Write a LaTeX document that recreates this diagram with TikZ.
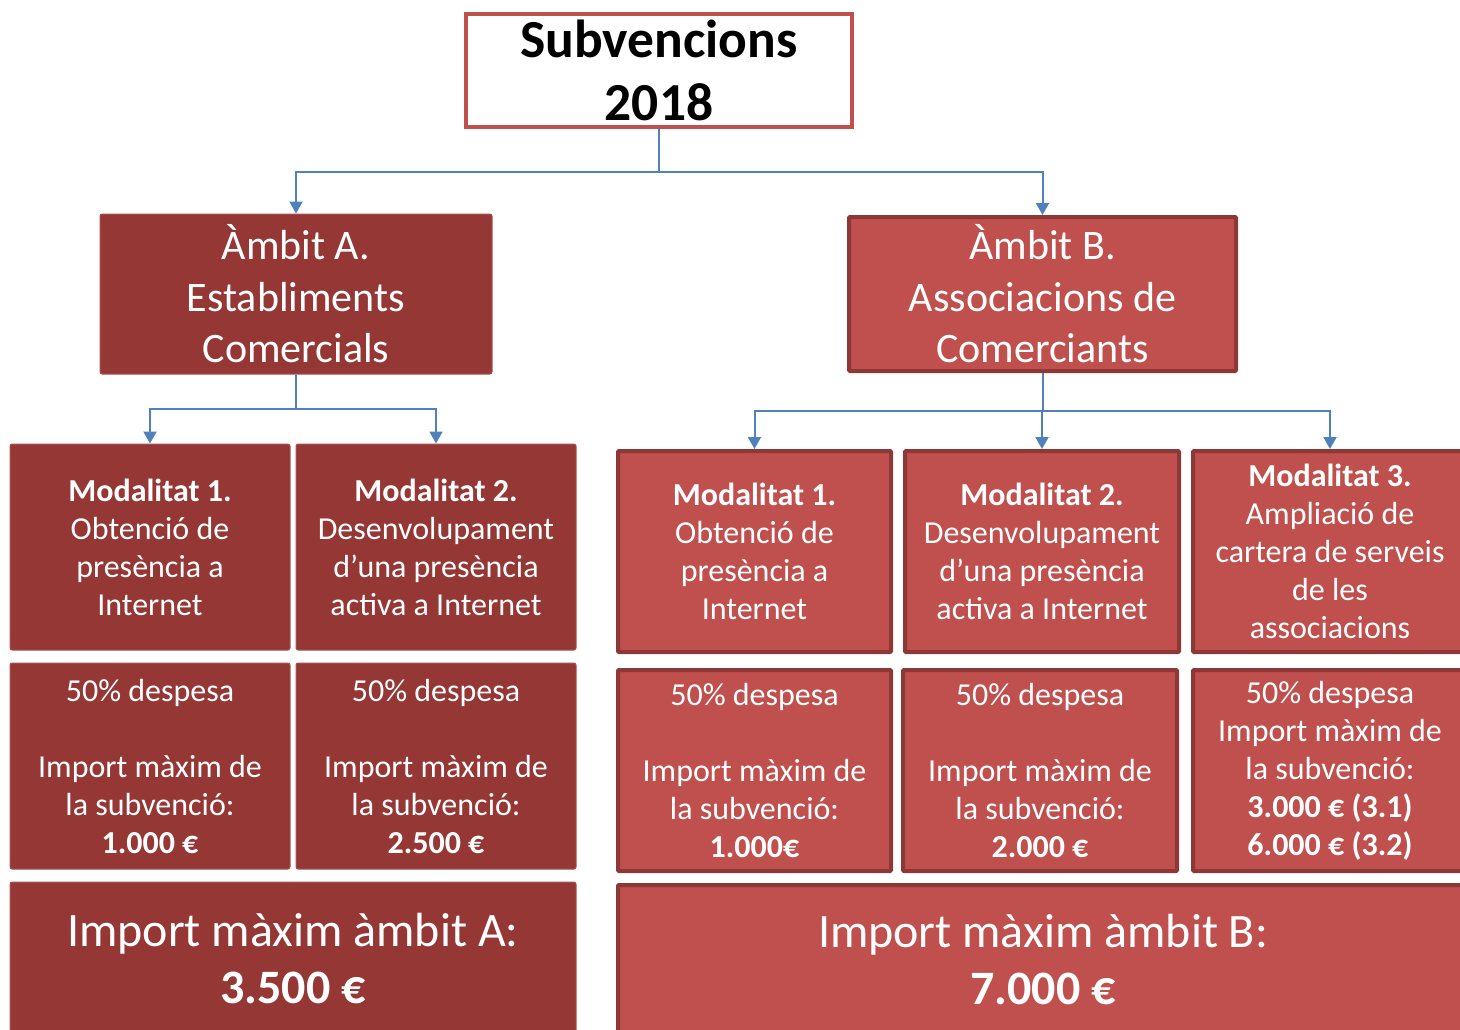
\documentclass[tikz,border=0pt]{standalone}
\usepackage{fontspec}
\setmainfont{Carlito}
\usepackage{xcolor}
\usetikzlibrary{arrows.meta,positioning,calc}

\definecolor{boxA}{RGB}{149,55,53}
\definecolor{boxB}{RGB}{192,80,77}
\definecolor{edgeB}{RGB}{140,56,54}
\definecolor{linkblue}{RGB}{79,129,189}

\tikzset{
    abox/.style={fill=boxA, draw=boxA!85!white, line width=1pt, rounded corners=2pt,
        text=white, align=center, inner sep=0pt},
    bbox/.style={fill=boxB, draw=edgeB, line width=4pt, rounded corners=1pt,
        text=white, align=center, inner sep=0pt},
    modtext/.style={font=\fontsize{32}{38}\selectfont},
    link/.style={draw=linkblue, line width=2pt, -{Triangle[width=13pt,length=12pt]}}
}

\begin{document}
\begin{tikzpicture}[x=1pt, y=-1pt]
    \useasboundingbox (0,0) rectangle (1460,1029);
    \clip (0,0) rectangle (1460,1029);

    % Title
    \node[draw=boxB, line width=4pt, fill=white, minimum width=386pt, minimum height=113pt,
        align=center, inner sep=0pt, font=\bfseries\fontsize{53.5}{63}\selectfont]
        (title) at (659,70.5) {Subvencions\\2018};

    % Ambits
    \node[abox, minimum width=392pt, minimum height=160pt, font=\fontsize{42}{51.5}\selectfont]
        (ambA) at (296,294) {Àmbit A.\\Establiments\\Comercials};
    \node[bbox, minimum width=387pt, minimum height=154pt, font=\fontsize{42}{51.5}\selectfont]
        (ambB) at (1042.5,294) {Àmbit B.\\Associacions de\\Comerciants};

    % Ambit A: modalitats
    \node[abox, modtext, minimum width=280pt, minimum height=206pt] (modA1) at (150,547)
        {\textbf{Modalitat 1.}\\Obtenció de\\presència a\\Internet};
    \node[abox, modtext, minimum width=280pt, minimum height=206pt] (modA2) at (436,547)
        {\textbf{Modalitat 2.}\\Desenvolupament\\d’una presència\\activa a Internet};
    \node[abox, modtext, minimum width=280pt, minimum height=206pt] (impA1) at (150,766)
        {50\% despesa\\[38pt]Import màxim de\\la subvenció:\\\textbf{1.000 €}};
    \node[abox, modtext, minimum width=280pt, minimum height=206pt] (impA2) at (436,766)
        {50\% despesa\\[38pt]Import màxim de\\la subvenció:\\\textbf{2.500 €}};
    \node[abox, minimum width=566pt, minimum height=153pt, font=\fontsize{48}{57}\selectfont]
        (totA) at (293,958.5) {Import màxim àmbit A:\\\textbf{3.500 €}};

    % Ambit B: modalitats
    \node[bbox, modtext, minimum width=273pt, minimum height=201pt] (modB1) at (754.5,551.5)
        {\textbf{Modalitat 1.}\\Obtenció de\\presència a\\Internet};
    \node[bbox, modtext, minimum width=274pt, minimum height=201pt] (modB2) at (1042,551.5)
        {\textbf{Modalitat 2.}\\Desenvolupament\\d’una presència\\activa a Internet};
    \node[bbox, modtext, minimum width=274pt, minimum height=201pt] (modB3) at (1330,551.5)
        {\textbf{Modalitat 3.}\\Ampliació de\\cartera de serveis\\de les\\associacions};
    \node[bbox, modtext, minimum width=273pt, minimum height=201pt] (impB1) at (754.5,770.5)
        {50\% despesa\\[38pt]Import màxim de\\la subvenció:\\\textbf{1.000€}};
    \node[bbox, modtext, minimum width=274pt, minimum height=201pt] (impB2) at (1040,770.5)
        {50\% despesa\\[38pt]Import màxim de\\la subvenció:\\\textbf{2.000 €}};
    \node[bbox, modtext, minimum width=274pt, minimum height=201pt] (impB3) at (1330,770.5)
        {50\% despesa\\Import màxim de\\la subvenció:\\\textbf{3.000 € (3.1)}\\\textbf{6.000 € (3.2)}};
    \node[bbox, minimum width=850pt, minimum height=148pt, font=\fontsize{48}{57}\selectfont]
        (totB) at (1043,959) {Import màxim àmbit B:\\\textbf{7.000 €}};

    % Connectors
    \coordinate (splitT) at (title.south |- 0,172);
    \coordinate (splitA) at (ambA.south |- 0,409);
    \coordinate (splitB) at (ambB.south |- 0,411);
    \draw[link, -] (title.south) -- (splitT);
    \foreach \n in {ambA, ambB} \draw[link] (splitT) -| (\n.north);
    \draw[link, -] (ambA.south) -- (splitA);
    \foreach \n in {modA1, modA2} \draw[link] (splitA) -| (\n.north);
    \draw[link, -] (ambB.south) -- (splitB);
    \foreach \n in {modB1, modB2, modB3} \draw[link] (splitB) -| (\n.north);
\end{tikzpicture}
\end{document}
